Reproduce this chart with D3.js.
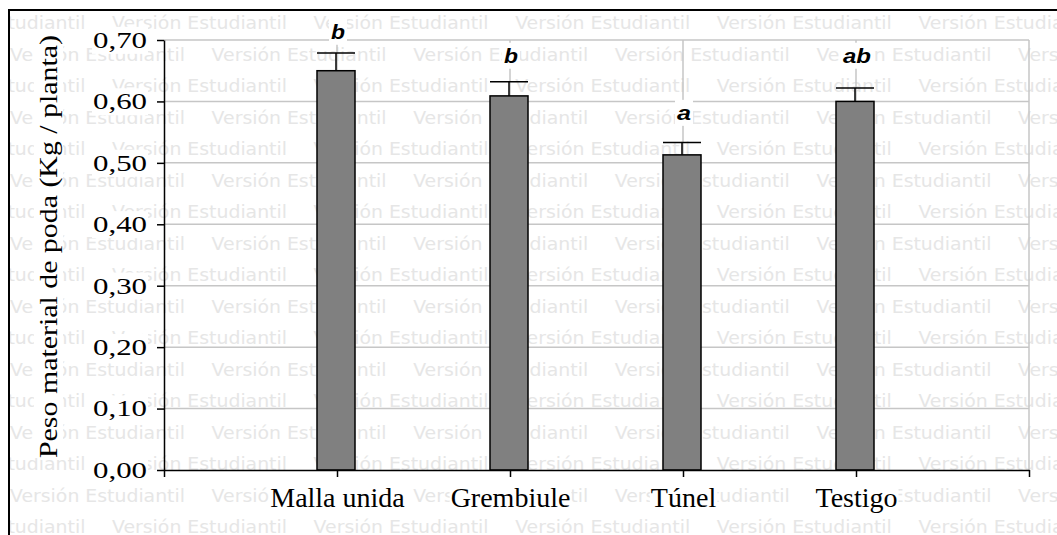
<!DOCTYPE html>
<html>
<head>
<meta charset="utf-8">
<title>Peso material de poda</title>
<style>
  body { margin: 0; background: #fff; }
  svg { display: block; }
</style>
</head>
<body>
<div id="chart"></div>
<script src="https://d3js.org/d3.v7.min.js"></script>
<script>
// datos
const categories = ["Malla unida", "Grembiule", "Túnel", "Testigo"];
const means = [0.650, 0.609, 0.513, 0.600];
const errors = [0.029, 0.023, 0.020, 0.022];
const letters = ["b", "b", "a", "ab"];
const letterAt = [0.702, 0.663, 0.570, 0.663];
const yTicks = [0, 0.1, 0.2, 0.3, 0.4, 0.5, 0.6, 0.7];
const yTitle = "Peso material de poda (Kg / planta)";
const watermark = "Versión Estudiantil";

const width = 1057, height = 535;

const svg = d3.select('#chart').append('svg')
  .attr('width', width)
  .attr('height', height);

svg.append('rect').attr('width', width).attr('height', height).attr('fill', '#fff');

// escalas: categorías en 1..4 de un eje 0..5
const x = d3.scaleLinear().domain([0, 5]).range([164, 1029]);
const y = d3.scaleLinear().domain([0, 0.7]).range([470, 40]);
const fmt = d => d3.format('.2f')(d).replace('.', ',');

// marca de agua
svg.append('clipPath').attr('id', 'wm-clip')
  .append('rect').attr('x', 10).attr('y', 11).attr('width', width).attr('height', height);
const wm = svg.append('g').attr('clip-path', 'url(#wm-clip)');
for (let k = 0; k < 17; k++) {
  const start = k % 2 === 0 ? 112 - 201.6 : 10 - 201.6;
  for (let n = 0; n < 7; n++) {
    wm.append('text')
      .attr('x', start + n * 201.6)
      .attr('y', 29 + k * 31.5)
      .attr('textLength', 175)
      .attr('lengthAdjust', 'spacingAndGlyphs')
      .style('font-family', 'DejaVu Sans')
      .style('font-size', '18.5px')
      .style('fill', '#e6e6e6')
      .text(watermark);
  }
}

// líneas de grilla
const grid = svg.append('g').style('stroke', '#c6c6c6').style('stroke-width', 1.5);
grid.selectAll('line.h').data(yTicks.filter(d => d > 0)).join('line')
  .attr('class', 'h')
  .attr('x1', x(0)).attr('x2', x(5))
  .attr('y1', d => y(d)).attr('y2', d => y(d));
grid.selectAll('line.v').data([1, 2, 3, 4, 5]).join('line')
  .attr('class', 'v')
  .attr('x1', d => x(d)).attr('x2', d => x(d))
  .attr('y1', y(0.7)).attr('y2', y(0));

// barras
const barW = 38;
svg.append('g').selectAll('rect').data(means).join('rect')
  .attr('x', (d, i) => x(i + 1) - barW / 2 - 1)
  .attr('y', d => y(d))
  .attr('width', barW)
  .attr('height', d => y(0) - y(d))
  .attr('fill', '#808080')
  .attr('stroke', '#000')
  .attr('stroke-width', 1.5);

// barras de error
const err = svg.append('g').style('stroke', '#000').style('stroke-width', 1.5);
means.forEach((m, i) => {
  const cx = x(i + 1) - 1;
  err.append('line').attr('x1', cx).attr('x2', cx).attr('y1', y(m)).attr('y2', y(m + errors[i]));
  err.append('line').attr('x1', cx - barW / 2).attr('x2', cx + barW / 2)
    .attr('y1', y(m + errors[i])).attr('y2', y(m + errors[i]));
});

// ejes
const yAxis = svg.append('g').attr('transform', `translate(${x(0)},0)`)
  .call(d3.axisLeft(y).tickValues(yTicks).tickSize(7).tickSizeOuter(0).tickPadding(10).tickFormat(fmt));
const xAxis = svg.append('g').attr('transform', `translate(0,${y(0)})`)
  .call(d3.axisBottom(x).tickValues([0, 1, 2, 3, 4, 5]).tickSize(7).tickSizeOuter(0).tickPadding(10)
    .tickFormat(d => categories[d - 1] || ''));

[yAxis, xAxis].forEach(a => {
  a.selectAll('path, line').style('stroke', '#000').style('stroke-width', 1.5);
});
yAxis.selectAll('text')
  .attr('textLength', 54)
  .attr('lengthAdjust', 'spacingAndGlyphs')
  .style('font-family', 'Liberation Serif')
  .style('font-size', '23px')
  .style('fill', '#000');
xAxis.selectAll('text')
  .style('font-family', 'Liberation Serif')
  .style('font-size', '28px')
  .style('fill', '#000');

// fondo blanco detrás de los textos
function backing(sel, pad) {
  sel.each(function () {
    if (!this.textContent) return;
    const b = this.getBBox();
    d3.select(this.parentNode).insert('rect', () => this)
      .attr('x', b.x - pad).attr('y', b.y - pad)
      .attr('width', b.width + 2 * pad).attr('height', b.height + 2 * pad)
      .attr('fill', '#fff');
  });
}
backing(yAxis.selectAll('text'), 1);
backing(xAxis.selectAll('text'), 1);

// letras de significancia
const lab = svg.append('g');
lab.selectAll('text').data(letters).join('text')
  .attr('x', (d, i) => x(i + 1) + 1)
  .attr('y', (d, i) => y(letterAt[i]))
  .attr('text-anchor', 'middle')
  .attr('textLength', d => d.length * 14)
  .attr('lengthAdjust', 'spacingAndGlyphs')
  .style('font-family', 'Liberation Sans')
  .style('font-weight', 'bold')
  .style('font-style', 'italic')
  .style('font-size', '20px')
  .text(d => d);
backing(lab.selectAll('text'), 2);

// título eje y
const title = svg.append('g');
title.append('text')
  .attr('transform', 'rotate(-90)')
  .attr('x', -246.5)
  .attr('y', 57)
  .attr('text-anchor', 'middle')
  .attr('textLength', 423)
  .attr('lengthAdjust', 'spacingAndGlyphs')
  .style('font-family', 'Liberation Serif')
  .style('font-size', '26px')
  .style('fill', '#000')
  .text(yTitle);
title.select('text').each(function () {
  const b = this.getBBox();
  title.insert('rect', 'text')
    .attr('transform', 'rotate(-90)')
    .attr('x', b.x).attr('y', b.y)
    .attr('width', b.width).attr('height', b.height)
    .attr('fill', '#fff');
});

// marco
svg.append('line').attr('x1', 8).attr('x2', width).attr('y1', 10).attr('y2', 10)
  .style('stroke', '#000').style('stroke-width', 2);
svg.append('line').attr('x1', 9).attr('x2', 9).attr('y1', 10).attr('y2', height)
  .style('stroke', '#000').style('stroke-width', 2);
</script>
</body>
</html>
